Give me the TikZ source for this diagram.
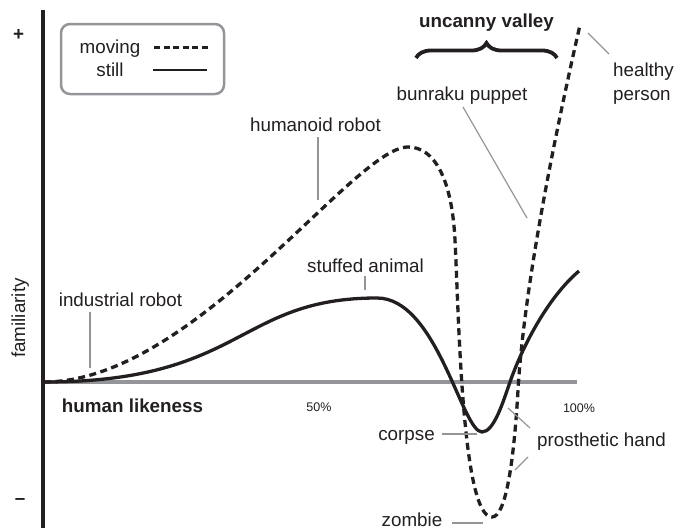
\documentclass[tikz,border=0pt]{standalone}
\usepackage{fontspec}
\setmainfont{Liberation Sans}
\usetikzlibrary{decorations.pathreplacing}
\definecolor{ink}{HTML}{231F20}
\definecolor{axgray}{HTML}{939598}
\tikzset{
  lbl/.style={font=\fontsize{18.8}{24}\selectfont, text=ink, inner sep=0pt, anchor=base},
  small/.style={font=\fontsize{12.5}{15}\selectfont, text=ink, inner sep=0pt, anchor=base},
  leader/.style={draw=axgray, line width=1.2pt},
  movingline/.style={draw=ink, line width=3.3pt, dash pattern=on 7pt off 4.5pt},
  stillline/.style={draw=ink, line width=3.3pt},
}
\begin{document}
\begin{tikzpicture}[x=1pt, y=-1pt]
\useasboundingbox (0,0) rectangle (675,530);
% axes
\coordinate (o) at (43,382);
\coordinate (xend) at (577,382);
\coordinate (ytop) at (43,10);
\coordinate (ybot) at (43,528);
\draw[axgray, line width=3.3pt] (o) -- (xend);
% still curve
\draw[stillline] (44,382) .. controls (244,382) and (237,298) .. (377,298)
  .. controls (437,298) and (462,432) .. (482,432)
  .. controls (494,432) and (503,402) .. (510,382)
  .. controls (520,353) and (545,300) .. (579,271);
% moving curve
\draw[movingline] (44,382) .. controls (194,382) and (354,147) .. (408,147)
  .. controls (435,147) and (452,180) .. (455,240)
  .. controls (459,320) and (462,517) .. (492,517)
  .. controls (506,517) and (514,460) .. (518,390)
  .. controls (522,320) and (540,200) .. (580,25);
\draw[ink, line width=3.3pt] (ytop) -- (ybot);
% axis marks
\node[lbl, font=\bfseries\fontsize{18.8}{24}\selectfont, anchor=center] (plus) at (18.5,34.5) {+};
\node[lbl, font=\bfseries\fontsize{18.8}{24}\selectfont, anchor=center] (minus) at (20,502) {–};
\node[lbl, rotate=90] (fam) at (25,318) {familiarity};
% legend
\node[draw=axgray, line width=2.5pt, rounded corners=9pt, minimum width=163pt, minimum height=70pt, inner sep=0pt] (legend) at (142.5,59) {};
\node[lbl] (mov) at (110,53) {moving};
\node[lbl] (sti) at (110,76) {still};
\coordinate (m1) at (154,47); \coordinate (m2) at (208,47);
\coordinate (s1) at (153,70); \coordinate (s2) at (207,70);
\draw[ink, line width=3pt, dash pattern=on 6pt off 3.5pt] (m1) -- (m2);
\draw[ink, line width=1.6pt] (s1) -- (s2);
% labels
\node[lbl, font=\bfseries\fontsize{18.8}{24}\selectfont] (uv) at (486.5,27.7) {uncanny valley};
\coordinate (b1) at (416,58); \coordinate (b2) at (557,58);
\draw[ink, line width=3.8pt, decorate, decoration={brace, amplitude=15pt}] (b1) -- (b2);
\node[lbl] (bun) at (462,100) {bunraku puppet};
\node[lbl, anchor=north west, align=left] (hp) at (613,62.5) {healthy\\person};
\node[lbl] (hum) at (315.5,131.7) {humanoid robot};
\node[lbl] (stf) at (365.5,272) {stuffed animal};
\node[lbl] (ind) at (120.5,306.5) {industrial robot};
\node[lbl, font=\bfseries\fontsize{18.8}{24}\selectfont] (hl) at (132.5,412) {human likeness};
\node[small] (p50) at (319,411.7) {50\%};
\node[small] (p100) at (579,412.7) {100\%};
\node[lbl] (cor) at (406.5,440) {corpse};
\node[lbl] (pro) at (601.5,446) {prosthetic hand};
\node[lbl] (zom) at (412,526.5) {zombie};
% leader lines
\coordinate (ir1) at (90,312); \coordinate (ir2) at (90,368);
\draw[leader] (ir1) -- (ir2);
\coordinate (hr1) at (318,137); \coordinate (hr2) at (318,200);
\draw[leader] (hr1) -- (hr2);
\coordinate (sa1) at (365,276); \coordinate (sa2) at (365,290);
\draw[leader] (sa1) -- (sa2);
\coordinate (bp1) at (463,107); \coordinate (bp2) at (527,218);
\draw[leader] (bp1) -- (bp2);
\coordinate (hp1) at (609,54); \coordinate (hp2) at (588,33);
\draw[leader] (hp1) -- (hp2);
\coordinate (co1) at (442,434); \coordinate (co2) at (477,434);
\draw[leader] (co1) -- (co2);
\coordinate (ph1) at (530,428); \coordinate (ph2) at (508,408);
\draw[leader] (ph1) -- (ph2);
\coordinate (ph3) at (528,457); \coordinate (ph4) at (515,470);
\draw[leader] (ph3) -- (ph4);
\coordinate (zo1) at (452,523); \coordinate (zo2) at (483,523);
\draw[leader] (zo1) -- (zo2);
\end{tikzpicture}
\end{document}
